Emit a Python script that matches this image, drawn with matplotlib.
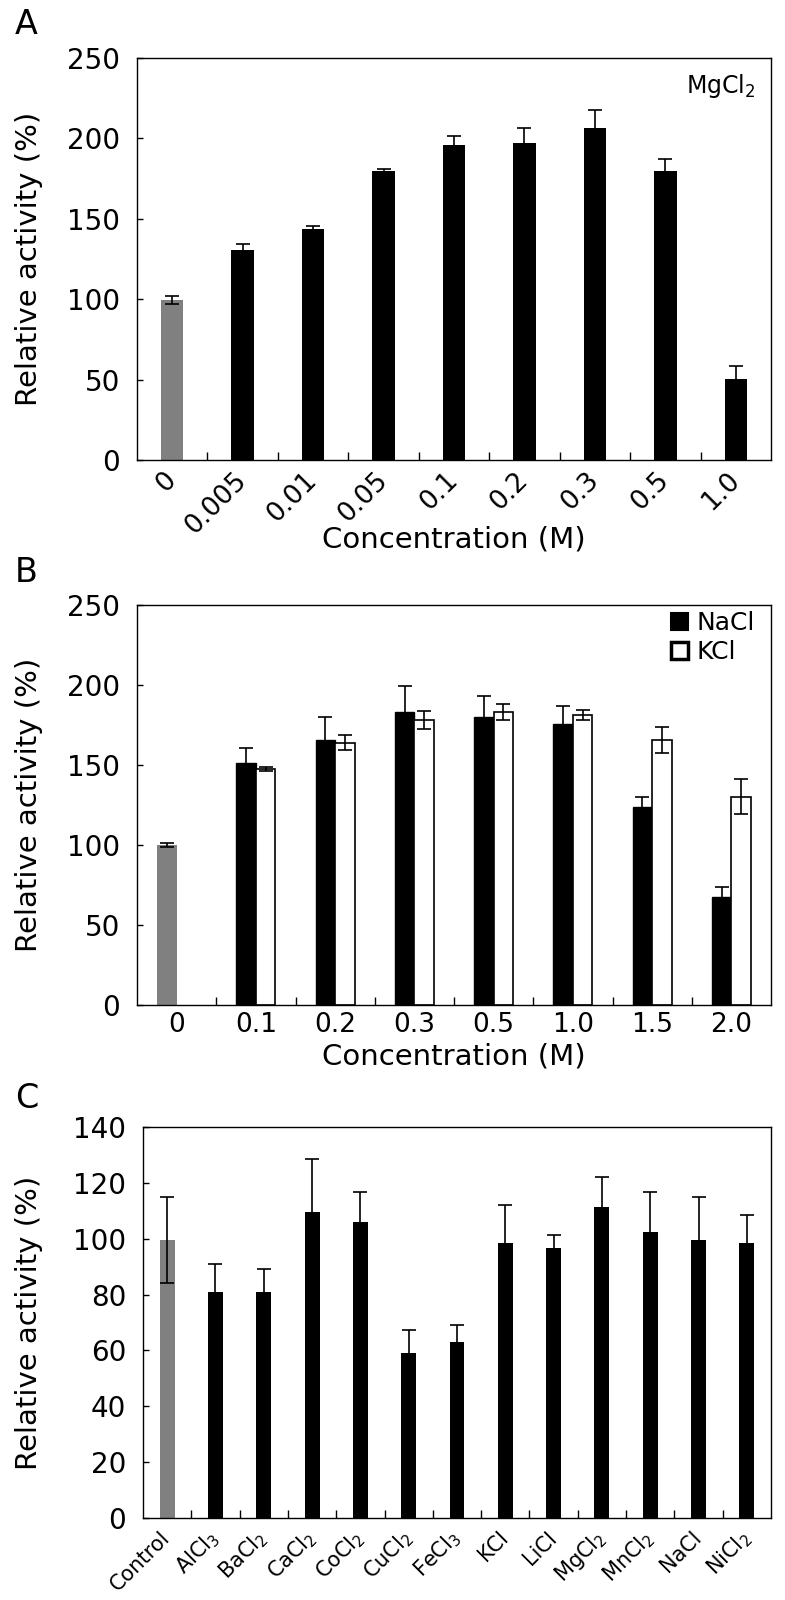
import numpy as np
import matplotlib
matplotlib.use("Agg")
import matplotlib.pyplot as plt
from matplotlib.patches import Patch

plt.rcParams['font.family'] = ['DejaVu Sans']
plt.rcParams['mathtext.default'] = 'regular'

# panel A: MgCl2 concentration series
conc_a = ['0', '0.005', '0.01', '0.05', '0.1', '0.2', '0.3', '0.5', '1.0']
act_a = [99.6, 130.5, 143.6, 179.9, 196, 197.3, 206.2, 179.9, 50.2]
err_a = [2.6, 4, 2.2, 1.3, 5.5, 9, 11.3, 7, 8.4]

# panel B: NaCl / KCl
conc_b = ['0', '0.1', '0.2', '0.3', '0.5', '1.0', '1.5', '2.0']
control_b = 100.0
control_b_err = 1.2
nacl = [151.3, 165.9, 183.4, 180.1, 175.7, 124.0, 67.6]
nacl_err = [9.4, 14.2, 15.9, 13.0, 11.0, 6.0, 6.3]
kcl = [147.5, 164.0, 178.4, 183.0, 181.3, 165.5, 130.2]
kcl_err = [1.5, 4.7, 5.6, 5.0, 3.3, 8.3, 11.0]

# panel C: different salts
salts = ['Control', 'AlCl$_3$', 'BaCl$_2$', 'CaCl$_2$', 'CoCl$_2$', 'CuCl$_2$', 'FeCl$_3$',
         'KCl', 'LiCl', 'MgCl$_2$', 'MnCl$_2$', 'NaCl', 'NiCl$_2$']
act_c = [99.5, 81, 81, 109.5, 106, 59.2, 62.9, 98.6, 96.8, 111.3, 102.3, 99.5, 98.6]
err_c = [15.5, 10, 8, 19, 10.6, 8.1, 6.1, 13.5, 4.4, 10.9, 14.3, 15.3, 10]

GRAY = '#808080'
FS = 20
LFS = 21
W, H = 785, 1600
EKW = dict(ecolor='black', elinewidth=1.2, capthick=1.2)

fig = plt.figure(figsize=(W / 100, H / 100), dpi=100)

def px_axes(left, top, right, bottom):
    return fig.add_axes([left / W, 1 - bottom / H, (right - left) / W, (bottom - top) / H])

def style_axis(ax, n, pad=5):
    ax.set_xlim(-0.5, n - 0.5)
    ax.set_xticks(np.arange(n))
    ax.tick_params(axis='x', length=0, pad=pad)
    ax.set_xticks(np.arange(n - 1) + 0.5, minor=True)
    ax.tick_params(axis='x', which='minor', direction='in', length=6, width=1)
    ax.tick_params(axis='y', direction='in', length=4, width=1, labelsize=FS, pad=12)
    for s in ax.spines.values():
        s.set_linewidth(1.0)

# ---- A
ax = px_axes(137, 58, 771, 460)
x = np.arange(len(conc_a))
cols = [GRAY] + ['black'] * (len(conc_a) - 1)
ax.bar(x, act_a, width=0.32, color=cols, yerr=err_a, capsize=5, error_kw=EKW)
style_axis(ax, len(conc_a), pad=12)
ax.set_ylim(0, 250)
ax.set_yticks(np.arange(0, 251, 50))
ax.set_xticklabels(conc_a, rotation=45, ha='right', va='center', rotation_mode='anchor', fontsize=19)
ax.set_ylabel('Relative activity (%)', fontsize=LFS)
ax.yaxis.set_label_coords(-0.148, 0.5)
ax.set_xlabel('Concentration (M)', fontsize=LFS)
ax.xaxis.set_label_coords(0.5, -0.162)
ax.text(0.975, 0.965, 'MgCl$_2$', transform=ax.transAxes, ha='right', va='top', fontsize=17)
fig.text(15 / W, 1 - 25 / H, 'A', fontsize=24, va='center')

# ---- B
ax = px_axes(137, 605, 771, 1005)
w = 0.245
xb = np.arange(1, len(conc_b))
ax.bar([-w / 2], [control_b], width=w, color=GRAY, yerr=[control_b_err], capsize=5, error_kw=EKW)
ax.bar(xb - w / 2, nacl, width=w, color='black', edgecolor='black',
       yerr=nacl_err, capsize=5, error_kw=EKW)
ax.bar(xb + w / 2, kcl, width=w, color='white', edgecolor='black', linewidth=1.2,
       yerr=kcl_err, capsize=5, error_kw=EKW)
style_axis(ax, len(conc_b))
ax.set_ylim(0, 250)
ax.set_yticks(np.arange(0, 251, 50))
ax.set_xticklabels(conc_b, fontsize=19)
ax.set_ylabel('Relative activity (%)', fontsize=LFS)
ax.yaxis.set_label_coords(-0.148, 0.5)
ax.set_xlabel('Concentration (M)', fontsize=LFS)
ax.xaxis.set_label_coords(0.5, -0.095)
handles = [Patch(facecolor='black', edgecolor='black', linewidth=1.5),
           Patch(facecolor='white', edgecolor='black', linewidth=2.5)]
ax.legend(handles, ['NaCl', 'KCl'], loc='upper right', bbox_to_anchor=(0.975, 0.985),
          frameon=False, fontsize=18, handlelength=0.7, handleheight=0.7,
          handletextpad=0.35, labelspacing=0.2, borderaxespad=0.0, borderpad=0.0)
fig.text(15 / W, 1 - 573 / H, 'B', fontsize=24, va='center')

# ---- C
ax = px_axes(143, 1127, 771, 1518)
xc = np.arange(len(salts))
cols = [GRAY] + ['black'] * (len(salts) - 1)
ax.bar(xc, act_c, width=0.31, color=cols, yerr=err_c, capsize=5, error_kw=EKW)
style_axis(ax, len(salts), pad=12)
ax.set_ylim(0, 140)
ax.set_yticks(np.arange(0, 141, 20))
ax.set_xticklabels(salts, rotation=45, ha='right', va='center', rotation_mode='anchor', fontsize=15)
ax.set_ylabel('Relative activity (%)', fontsize=LFS)
ax.yaxis.set_label_coords(-0.159, 0.5)
fig.text(15 / W, 1 - 1098 / H, 'C', fontsize=24, va='center')

fig.savefig('out.png', dpi=100)
